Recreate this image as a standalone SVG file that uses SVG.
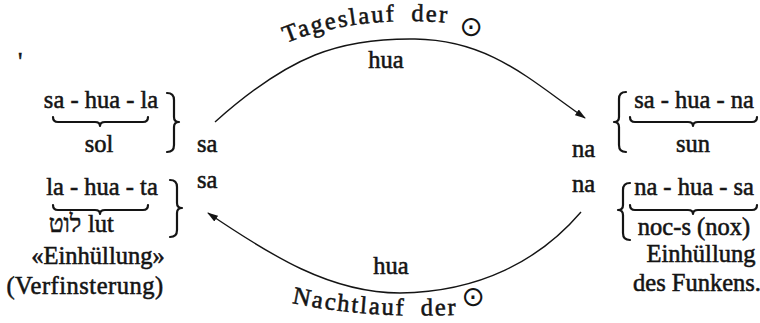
<svg xmlns="http://www.w3.org/2000/svg" width="760" height="323" viewBox="0 0 760 323">
<style>
.t{font-family:"Liberation Serif","DejaVu Serif",serif;font-size:24.5px;fill:#141414;stroke:#141414;stroke-width:0.55px}
.m{text-anchor:middle}
.sym{font-family:"DejaVu Sans",sans-serif;font-size:28px;fill:#141414;text-anchor:middle}
.br{fill:none;stroke:#141414;stroke-width:2.2;stroke-linecap:round;stroke-linejoin:round}
.cv{fill:none;stroke:#141414;stroke-width:1.4}
</style>
<defs>
<marker id="ah" viewBox="0 0 11 7" refX="10" refY="3.5" markerWidth="11" markerHeight="7" markerUnits="userSpaceOnUse" orient="auto">
<path d="M0,0 L11,3.5 L0,7 Z" fill="#141414"/>
</marker>
<path id="topArc" d="M286,43 Q362,12 472,25"/>
<path id="botArc" d="M292,303 Q372,320 472,314"/>
</defs>
<rect width="760" height="323" fill="#fff"/>

<text class="t" x="18" y="70" font-size="20">'</text>

<g id="left-top">
<text class="t m" x="101" y="108">sa - hua - la</text>
<path class="br" d="M53,117 q0,5 5,5 L95,122 q5,0 5,4 q0,-4 5,-4 L143,122 q5,0 5,-5"/>
<text class="t m" x="99" y="152">sol</text>
<path class="br" d="M167,93 q7,0 7,7 L174,117 q0,5 5,5 q-5,0 -5,5 L174,145 q0,7 -7,7"/>
</g>

<g id="left-bottom">
<text class="t m" x="102" y="195">la - hua - ta</text>
<path class="br" d="M53,205 q0,5 5,5 L95,210 q5,0 5,4 q0,-4 5,-4 L143,210 q5,0 5,-5"/>
<text class="t m" x="65" y="232" style="font-family:'Liberation Serif','DejaVu Sans',serif">לוט</text>
<text class="t" x="88" y="232">lut</text>
<path class="br" d="M170,180 q7,0 7,7 L177,203 q0,5 5,5 q-5,0 -5,5 L177,230 q0,7 -7,7"/>
<text class="t m" x="98" y="264">«Einhüllung»</text>
<text class="t m" x="85" y="294" letter-spacing="0.5">(Verfinsterung)</text>
</g>

<g id="sa-top"><text class="t" x="197" y="152">sa</text></g>
<g id="sa-bottom"><text class="t" x="197" y="188">sa</text></g>
<g id="na-top"><text class="t" x="572" y="157">na</text></g>
<g id="na-bottom"><text class="t" x="572" y="192">na</text></g>

<g id="right-top">
<path class="br" d="M626,92 q-7,0 -7,7 L619,117 q0,5 -5,5 q5,0 5,5 L619,145 q0,7 7,7"/>
<text class="t m" x="694" y="108">sa - hua - na</text>
<path class="br" d="M630,117 q0,5 5,5 L688,122 q5,0 5,4 q0,-4 5,-4 L752,122 q5,0 5,-5"/>
<text class="t m" x="693" y="152">sun</text>
</g>

<g id="right-bottom">
<path class="br" d="M630,183 q-7,0 -7,7 L623,205 q0,5 -5,5 q5,0 5,5 L623,233 q0,7 7,7"/>
<text class="t m" x="694" y="195">na - hua - sa</text>
<path class="br" d="M630,205 q0,5 5,5 L688,210 q5,0 5,4 q0,-4 5,-4 L752,210 q5,0 5,-5"/>
<text class="t m" x="694" y="235">noc-s  (nox)</text>
<text class="t m" x="701" y="262">Einhüllung</text>
<text class="t m" x="697" y="291">des Funkens.</text>
</g>

<g id="connectors">
<path class="cv" d="M215,122 C290,55 340,38 415,39 C490,40 530,80 585,118" marker-end="url(#ah)"/>
<path class="cv" d="M581,212 C540,260 480,292 400,293 C330,293 270,255 208,213" marker-end="url(#ah)"/>
<text class="t" letter-spacing="2" word-spacing="7"><textPath href="#topArc">Tageslauf der</textPath></text>
<text class="sym" x="471" y="36">⊙</text>
<text class="t m" x="391" y="274">hua</text>
<text class="t m" x="386" y="68">hua</text>
<text class="t" letter-spacing="2" word-spacing="7"><textPath href="#botArc">Nachtlauf der</textPath></text>
<text class="sym" x="473" y="306">⊙</text>
</g>
</svg>
